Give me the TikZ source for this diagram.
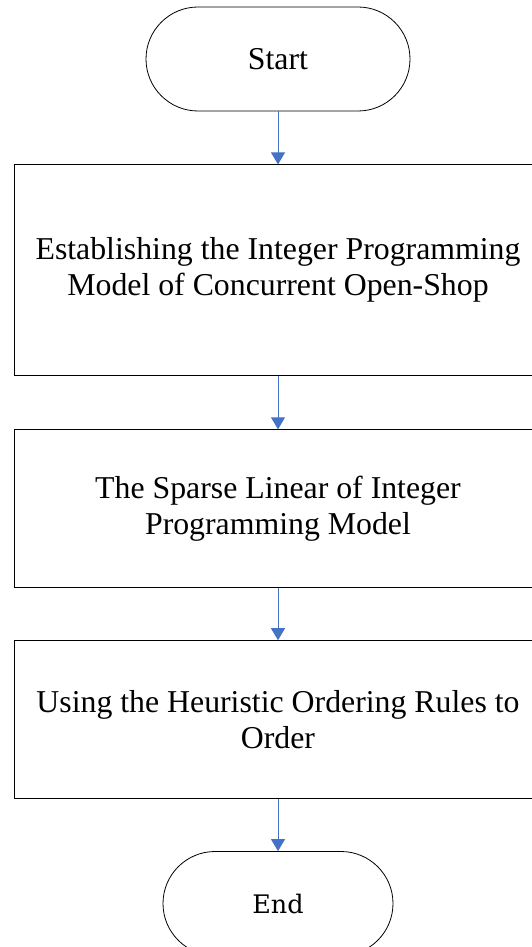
\documentclass[tikz,border=0pt]{standalone}
\usepackage{fontspec}
\setmainfont{Liberation Serif}
\newfontfamily\endfont{DejaVu Serif}
\usetikzlibrary{positioning, arrows.meta}
\definecolor{FlowBlue}{HTML}{4472C4}
\tikzset{
    termnode/.style={rectangle, rounded corners=52pt, draw=black, line width=0.8pt, minimum width=264pt, minimum height=104pt, align=center, font=\fontsize{31.8}{36}\selectfont},
    procnode/.style={rectangle, draw=black, line width=0.9pt, minimum width=528pt, align=center, font=\fontsize{31.8}{36}\selectfont},
    flowarrow/.style={-{Triangle[width=14pt, length=12pt]}, color=FlowBlue, line width=1pt},
}

\begin{document}
\begin{tikzpicture}[node distance=53pt]
    \useasboundingbox (0,0) rectangle (532pt,-947pt);

    % Nodi
    \node[termnode] (start) at (278pt,-59pt) {Start};
    \node[procnode, minimum height=211pt, below=of start] (model) {Establishing the Integer Programming\\Model of Concurrent Open-Shop};
    \node[procnode, minimum height=158pt, below=of model] (sparse) {The Sparse Linear of Integer\\Programming Model};
    \node[procnode, minimum height=158pt, below=52pt of sparse] (order) {Using the Heuristic Ordering Rules to\\Order};
    \node[termnode, minimum width=230pt, below=52pt of order, font=\endfont\fontsize{25.5}{30}\selectfont] (end) {End};

    % Frecce
    \draw[flowarrow] (start) -- (model);
    \draw[flowarrow] (model) -- (sparse);
    \draw[flowarrow] (sparse) -- (order);
    \draw[flowarrow] (order) -- (end);
\end{tikzpicture}
\end{document}
